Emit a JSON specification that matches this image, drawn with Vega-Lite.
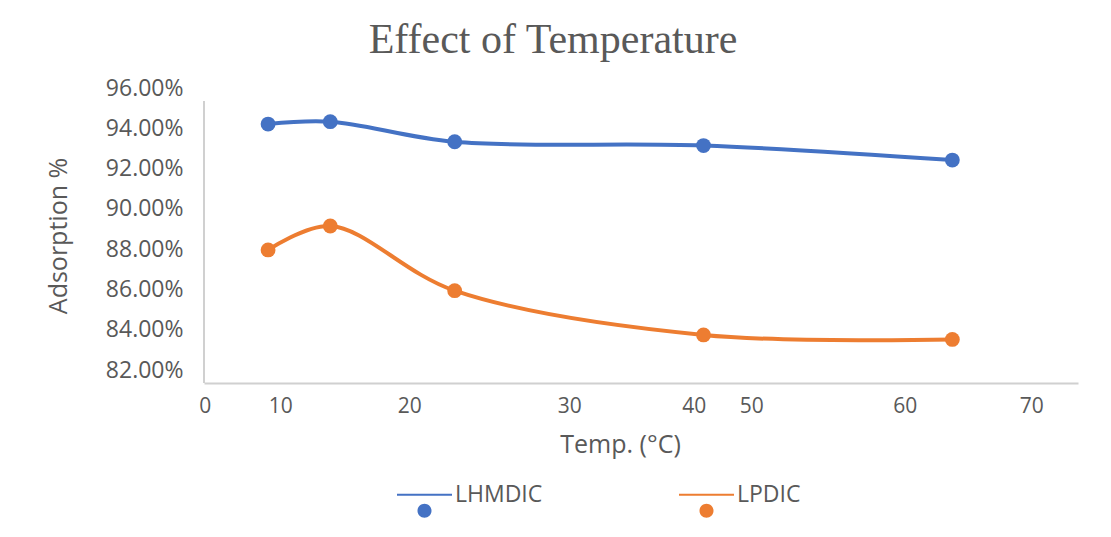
{
  "$schema": "https://vega.github.io/schema/vega-lite/v6.json",
  "autosize": "none",
  "padding": {"left": 204, "top": 88, "right": 33, "bottom": 154},
  "width": 874,
  "height": 295,
  "background": "white",
  "title": {
    "text": "Effect of Temperature",
    "font": "Liberation Serif",
    "fontSize": 42,
    "fontWeight": "normal",
    "color": "#595959",
    "frame": "group",
    "anchor": "middle",
    "baseline": "alphabetic",
    "offset": -18,
    "dx": -88
  },
  "data": {
    "values": [
      {"temp": 10, "adsorption": 0.9421, "series": "LHMDIC"},
      {"temp": 15, "adsorption": 0.9433, "series": "LHMDIC"},
      {"temp": 25, "adsorption": 0.9333, "series": "LHMDIC"},
      {"temp": 45, "adsorption": 0.9314, "series": "LHMDIC"},
      {"temp": 65, "adsorption": 0.9242, "series": "LHMDIC"},
      {"temp": 10, "adsorption": 0.8796, "series": "LPDIC"},
      {"temp": 15, "adsorption": 0.8915, "series": "LPDIC"},
      {"temp": 25, "adsorption": 0.8594, "series": "LPDIC"},
      {"temp": 45, "adsorption": 0.8374, "series": "LPDIC"},
      {"temp": 65, "adsorption": 0.8352, "series": "LPDIC"}
    ]
  },
  "encoding": {
    "x": {
      "field": "temp",
      "type": "quantitative",
      "scale": {"domain": [4.85, 75.1], "nice": false, "zero": false},
      "axis": {
        "title": "Temp. (°C)",
        "values": [4.91, 10.98, 21.35, 34.21, 44.22, 48.84, 61.18, 71.35],
        "labelExpr": "datum.value < 8 ? '0' : datum.value < 15 ? '10' : datum.value < 25 ? '20' : datum.value < 40 ? '30' : datum.value < 46 ? '40' : datum.value < 55 ? '50' : datum.value < 65 ? '60' : '70'",
        "labelFlush": false,
        "labelOverlap": false,
        "ticks": false,
        "grid": false,
        "domainColor": "#D0D0D0",
        "domainWidth": 2,
        "labelFont": "Open Sans",
        "labelFontSize": 21,
        "labelColor": "#595959",
        "labelPadding": 12,
        "titleFont": "Open Sans",
        "titleFontSize": 25,
        "titleFontWeight": "normal",
        "titleColor": "#595959",
        "titlePadding": 16,
        "titleX": 416,
        "titleAlign": "center"
      }
    },
    "y": {
      "field": "adsorption",
      "type": "quantitative",
      "scale": {"domain": [0.81355, 0.96], "nice": false, "zero": false},
      "axis": {
        "title": "Adsorption %",
        "values": [0.82, 0.84, 0.86, 0.88, 0.9, 0.92, 0.94, 0.96],
        "format": ".2%",
        "ticks": false,
        "grid": false,
        "domain": false,
        "labelFont": "Open Sans",
        "labelFontSize": 23,
        "labelColor": "#595959",
        "labelPadding": 21,
        "titleFont": "Open Sans",
        "titleFontSize": 25,
        "titleFontWeight": "normal",
        "titleColor": "#595959",
        "titlePadding": 34
      }
    },
    "color": {
      "field": "series",
      "type": "nominal",
      "scale": {"domain": ["LHMDIC", "LPDIC"], "range": ["#4472C4", "#ED7D31"]},
      "legend": {
        "title": null,
        "orient": "none",
        "legendX": 193,
        "legendY": 379,
        "direction": "horizontal",
        "columns": 2,
        "columnPadding": 136,
        "symbolType": "M-1,-0.036H1V0.036H-1Z M-0.255,0.58a0.255,0.255 0 1,0 0.51,0a0.255,0.255 0 1,0 -0.51,0",
        "symbolSize": 3025,
        "symbolStrokeWidth": 0,
        "symbolOpacity": 1,
        "labelOffset": 3,
        "labelFont": "Open Sans",
        "labelFontSize": 23,
        "labelColor": "#595959",
        "encode": {
          "symbols": {
            "update": {
              "fill": {"scale": "color", "field": "value"},
              "fillOpacity": {"value": 1},
              "strokeWidth": {"value": 0}
            }
          }
        }
      }
    }
  },
  "layer": [
    {
      "mark": {"type": "rule", "color": "#D0D0D0", "strokeWidth": 2},
      "encoding": {
        "x": {"datum": 4.85, "type": "quantitative"},
        "y": {"datum": 0.81355, "type": "quantitative"},
        "y2": {"datum": 0.95355},
        "color": null
      }
    },
    {
      "mark": {"type": "line", "interpolate": "catmull-rom", "strokeWidth": 4}
    },
    {
      "mark": {"type": "point", "filled": true, "opacity": 1, "size": 220}
    }
  ],
  "config": {
    "view": {"stroke": null}
  }
}
